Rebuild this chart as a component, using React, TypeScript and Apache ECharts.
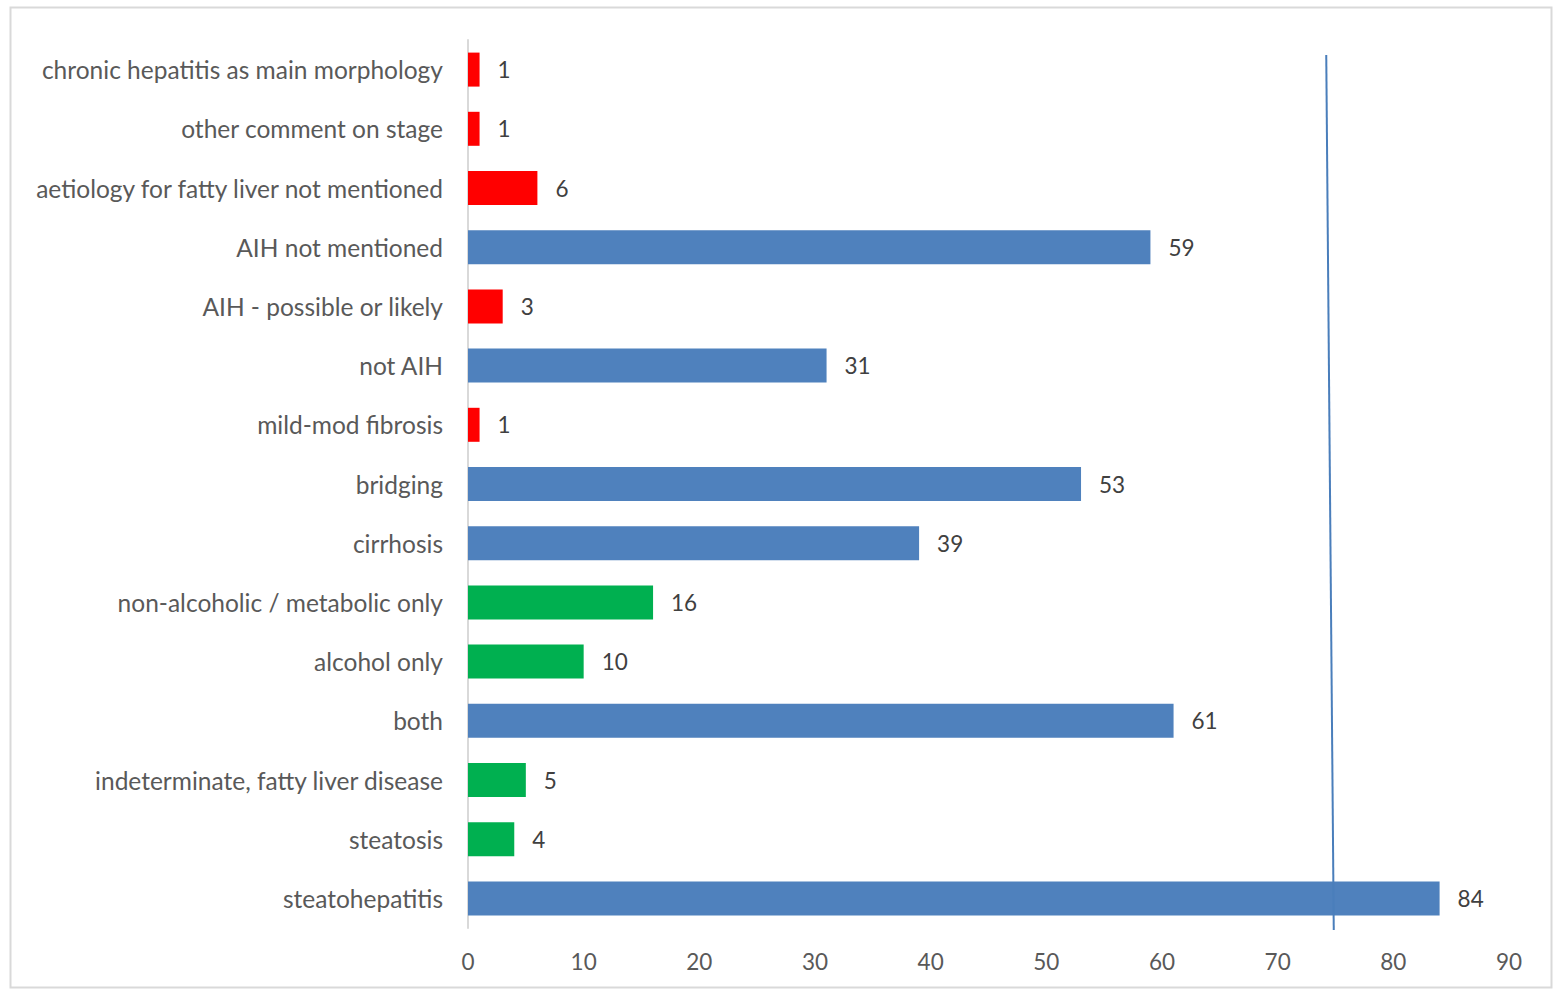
import React, { useEffect, useRef } from "react";
import * as echarts from "echarts";

const categories = [
  "steatohepatitis",
  "steatosis",
  "indeterminate, fatty liver disease",
  "both",
  "alcohol only",
  "non-alcoholic / metabolic only",
  "cirrhosis",
  "bridging",
  "mild-mod fibrosis",
  "not AIH",
  "AIH - possible or likely",
  "AIH not mentioned",
  "aetiology for fatty liver not mentioned",
  "other comment on stage",
  "chronic hepatitis as main morphology",
];
const values = [84, 4, 5, 61, 10, 16, 39, 53, 1, 31, 3, 59, 6, 1, 1];
const colorGroups = ["blue", "green", "green", "blue", "green", "green", "blue", "blue", "red", "blue", "red", "blue", "red", "red", "red"];
const palette: Record<string, string> = { blue: "#4F81BD", green: "#00B050", red: "#FF0000" };
const xTicks = { min: 0, max: 90, interval: 10 };
const refLineTopX = 74.2;
const refLineBottomX = 74.85;

export default function App() {
  const ref = useRef<HTMLDivElement>(null);
  useEffect(() => {
    const chart = echarts.init(ref.current!, null, { renderer: "svg" });
    const font = "Lato, 'Open Sans', sans-serif";
    const gridTop = 40;
    const gridBottomPx = 928;
    chart.setOption({
      animation: false,
      backgroundColor: "#ffffff",
      grid: { left: 468, right: 1554 - 1509, top: gridTop, bottom: 990 - gridBottomPx },
      xAxis: {
        type: "value",
        min: xTicks.min,
        max: xTicks.max,
        interval: xTicks.interval,
        axisLine: { show: false },
        axisTick: { show: false },
        splitLine: { show: false },
        axisLabel: { color: "#595959", fontSize: 22.5, fontFamily: font, margin: 22 },
      },
      yAxis: {
        type: "category",
        data: categories,
        axisLine: { show: true, lineStyle: { color: "#d9d9d9", width: 2 } },
        axisTick: { show: false },
        axisLabel: { color: "#595959", fontSize: 24.5, fontFamily: font, margin: 25 },
      },
      series: [
        {
          type: "bar",
          data: values.map((v, i) => ({ value: v, itemStyle: { color: palette[colorGroups[i]] } })),
          barWidth: 34,
          label: {
            show: true,
            position: "right",
            distance: 18,
            color: "#404040",
            fontSize: 22.5,
            fontFamily: font,
          },
        },
      ],
    });
    const top = chart.convertToPixel({ xAxisIndex: 0 }, refLineTopX) as number;
    const bottom = chart.convertToPixel({ xAxisIndex: 0 }, refLineBottomX) as number;
    chart.setOption({
      graphic: [
        {
          type: "rect",
          shape: { x: 10.5, y: 7.5, width: 1541, height: 980 },
          style: { fill: "none", stroke: "#d9d9d9", lineWidth: 2 },
          silent: true,
        },
        {
          type: "line",
          shape: { x1: top, y1: 55, x2: bottom, y2: 930 },
          style: { stroke: "#4A7EBB", lineWidth: 2 },
          z: 100,
        },
      ],
    });
    return () => chart.dispose();
  }, []);
  return <div ref={ref} style={{ position: "absolute", left: 0, top: 0, width: 1554, height: 990 }} />;
}
